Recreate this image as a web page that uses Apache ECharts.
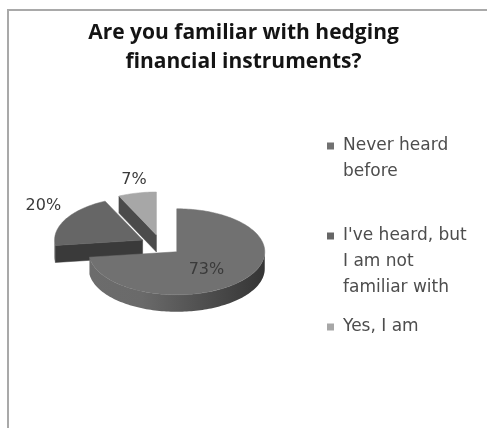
<!DOCTYPE html>
<html>
<head>
<meta charset="utf-8">
<script src="https://cdn.jsdelivr.net/npm/echarts@6/dist/echarts.min.js"></script>
<style>
  html, body { margin: 0; padding: 0; background: #ffffff; }
  #chart { width: 487px; height: 428px; }
</style>
</head>
<body>
<div id="chart"></div>
<script>
// Survey answers and their shares (percent)
const titleText = 'Are you familiar with hedging\nfinancial instruments?';
const categories = ['Never heard before', "I've heard, but I am not familiar with", 'Yes, I am'];
const legendLines = [['Never heard', 'before'], ["I've heard, but", 'I am not', 'familiar with'], ['Yes, I am']];
const shares = [73, 20, 7];

// Greyscale palette: top faces and the darker cut faces
const topColors = ['#717171', '#666666', '#a7a7a7'];
const cutColors = ['#3d3d3d', '#3a3a3a', '#4b4b4b'];

// Layout of the tilted, exploded pie
const PIE = { cx: 161, cy: 245, rx: 88, ry: 43, depth: 17, explode: 21 };
const LEGEND = { left: 327, iconY: [146, 236, 327], lineHeight: 26 };
const LABEL_FONT_SIZE = 16;
const LABEL_FONT = LABEL_FONT_SIZE + 'px "DejaVu Sans"';

const total = shares.reduce((a, b) => a + b, 0);
const measureCtx = document.createElement('canvas').getContext('2d');
function textWidth(s) { measureCtx.font = LABEL_FONT; return measureCtx.measureText(s).width; }

// Angles run clockwise from 12 o'clock
function onRim(c, th, dy) {
  return [c[0] + PIE.rx * Math.sin(th), c[1] - PIE.ry * Math.cos(th) + (dy || 0)];
}
function arcPoints(c, a, b, dy) {
  const n = Math.max(2, Math.ceil((b - a) / (Math.PI / 120)));
  const pts = [];
  for (let k = 0; k <= n; k++) pts.push(onRim(c, a + (b - a) * k / n, dy));
  return pts;
}

function renderSlice(sliceIndex) {
  return function (params, api) {
    const value = api.value(0);
    let before = 0;
    for (let j = 0; j < sliceIndex; j++) before += shares[j];
    const start = before / total * Math.PI * 2;
    const end = start + value / total * Math.PI * 2;
    const mid = (start + end) / 2;
    const k = PIE.ry / PIE.rx;
    const c = [PIE.cx + PIE.explode * Math.sin(mid), PIE.cy - PIE.explode * k * Math.cos(mid)];
    const base = Math.round(-Math.cos(mid) * 10) * 10 + 200;   // front slices paint last
    const d = PIE.depth;
    const children = [];

    // radial cut faces, only those turned towards the viewer
    [[start, Math.sin(start) < -1e-6], [end, Math.sin(end) > 1e-6]].forEach(([th, visible]) => {
      if (!visible) return;
      const r = onRim(c, th);
      children.push({
        type: 'polygon', z2: base + 1,
        shape: { points: [c, r, [r[0], r[1] + d], [c[0], c[1] + d]] },
        style: { fill: cutColors[sliceIndex], stroke: cutColors[sliceIndex], lineWidth: 0.5 }
      });
    });

    // outer wall on the front half; wide walls get the lit-from-left shading
    const a = Math.max(start, Math.PI / 2), b = Math.min(end, Math.PI * 1.5);
    if (a < b) {
      const topArc = arcPoints(c, a, b, 0);
      const botArc = arcPoints(c, a, b, d).reverse();
      const shaded = (b - a) > Math.PI / 4;
      children.push({
        type: 'polygon', z2: base + 2,
        shape: { points: topArc.concat(botArc) },
        style: {
          fill: shaded ? new echarts.graphic.LinearGradient(0, 0, 1, 0, [
            { offset: 0, color: '#6c6c6c' },
            { offset: 0.3, color: '#6a6a6a' },
            { offset: 0.65, color: '#4f4f4f' },
            { offset: 1, color: '#353535' }
          ]) : cutColors[sliceIndex]
        }
      });
    }

    // top face
    children.push({
      type: 'polygon', z2: base + 3,
      shape: { points: [c].concat(arcPoints(c, start, end, 0)) },
      style: { fill: api.visual('color'), stroke: api.visual('color'), lineWidth: 0.5 }
    });

    // percentage label
    const text = value + '%';
    let lx, ly;
    if (value / total > 0.25) {
      lx = c[0] + 0.45 * PIE.rx * Math.sin(mid);
      ly = c[1] - 0.45 * PIE.ry * Math.cos(mid) + d * 0.3;
    } else {
      const rim = onRim(c, mid);
      let dx = PIE.rx * Math.sin(mid), dy = -PIE.ry * Math.cos(mid);
      const len = Math.hypot(dx, dy); dx /= len; dy /= len;
      const w = textWidth(text), h = LABEL_FONT_SIZE * 0.8;
      lx = rim[0] + dx * Math.abs(dx) * (w / 2 + 6);
      ly = rim[1] + Math.sign(dy) * (h / 2 + 7);
    }
    children.push({
      type: 'text', z2: 500,
      style: {
        text: text, x: lx, y: ly, align: 'center', verticalAlign: 'middle',
        font: LABEL_FONT, fill: '#3a3a3a'
      }
    });

    return { type: 'group', children: children };
  };
}

const chart = echarts.init(document.getElementById('chart'), null, { renderer: 'canvas' });

// one legend block per answer, icon level with the first text line
const legends = categories.map((name, i) => {
  const n = legendLines[i].length;
  const lead = '\n'.repeat(n - 1);
  return {
    data: [name],
    left: LEGEND.left,
    top: LEGEND.iconY[i] - (2 * n - 1) * LEGEND.lineHeight / 2,
    padding: 0,
    icon: 'rect',
    itemWidth: 7,
    itemHeight: 7,
    selectedMode: false,
    formatter: () => lead + legendLines[i].join('\n'),
    textStyle: {
      fontFamily: 'DejaVu Sans',
      fontSize: 17,
      lineHeight: LEGEND.lineHeight,
      color: '#4d4d4d',
      padding: [0, 0, 0, 4]
    }
  };
});

chart.setOption({
  animation: false,
  backgroundColor: '#ffffff',
  color: topColors,
  title: {
    text: titleText,
    left: 'center',
    top: 14,
    textStyle: {
      fontFamily: 'Open Sans',
      fontWeight: 'bold',
      fontSize: 21,
      lineHeight: 29,
      color: '#141414'
    }
  },
  legend: legends,
  graphic: [{
    type: 'polyline',
    shape: { points: [[487, 10], [8, 10], [8, 428]] },
    style: { stroke: '#a9a9a9', lineWidth: 2, fill: null }
  }],
  series: categories.map((name, i) => ({
    type: 'custom',
    name: name,
    coordinateSystem: 'none',
    itemStyle: { color: topColors[i] },
    renderItem: renderSlice(i),
    data: [[shares[i]]]
  }))
});
</script>
</body>
</html>
